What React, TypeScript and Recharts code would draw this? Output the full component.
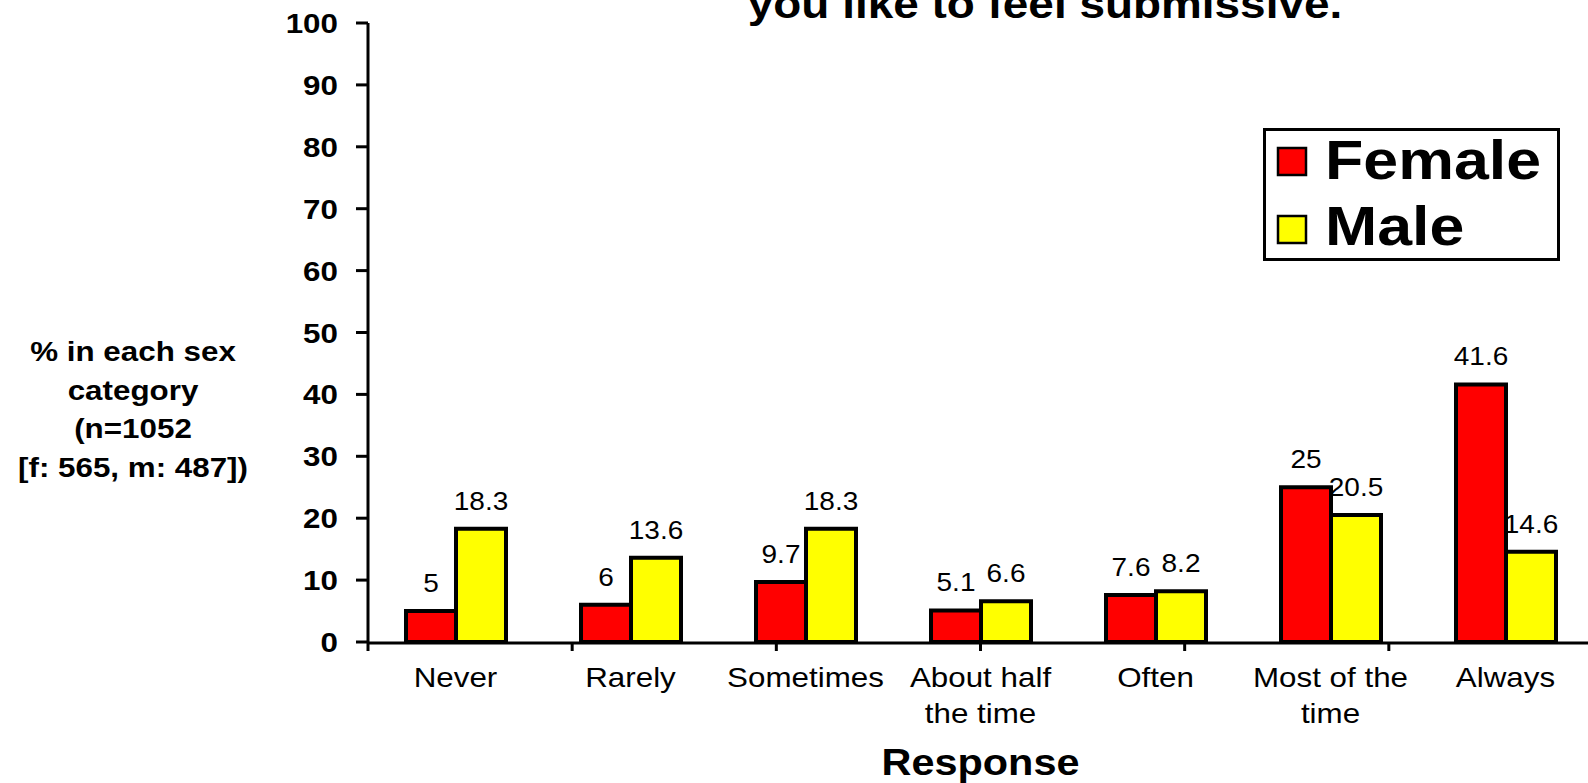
import { BarChart, Bar, XAxis, YAxis, Legend, LabelList, Label } from 'recharts';

// categories and values
const categories = ['Never', 'Rarely', 'Sometimes', 'About half\nthe time', 'Often', 'Most of the\ntime', 'Always'];
const femaleValues = [5, 6, 9.7, 5.1, 7.6, 25, 41.6];
const maleValues = [18.3, 13.6, 18.3, 6.6, 8.2, 20.5, 14.6];
const yTicks = [0, 10, 20, 30, 40, 50, 60, 70, 80, 90, 100];
const edgeTicks = [0, 1, 2, 3, 4, 5, 6, 7];
const yLabelLines = ['% in each sex', 'category', '(n=1052', '[f: 565, m: 487])'];

const COLORS: Record<string, string> = {
  female: '#ff0000',
  male: '#ffff00',
};
const FONT = '"Liberation Sans", Arial, Helvetica, sans-serif';
const STRETCH = 1.12; // the original text is a bit wide

const chartData = categories.map((name, i) => ({
  name,
  female: femaleValues[i],
  male: maleValues[i],
}));

const NoTick = () => <g />;

const YTick = ({ x, y, payload }: any) => (
  <g transform={`translate(${x},${y}) scale(${STRETCH},1)`}>
    <text textAnchor="end" dy={10} fontSize={28} fontWeight="bold" fontFamily={FONT} fill="#000">
      {payload.value}
    </text>
  </g>
);

const CategoryTick = ({ x, payload }: any) => {
  const lines = String(payload.value).split('\n');
  return (
    <g transform={`translate(${x},642) scale(${STRETCH},1)`}>
      <text textAnchor="middle" fontSize={28} fontFamily={FONT} fill="#000">
        {lines.map((l, i) => (
          <tspan key={i} x={0} y={45 + i * 36}>{l}</tspan>
        ))}
      </text>
    </g>
  );
};

const ValueLabel = ({ x, y, width, value }: any) => (
  <g transform={`translate(${x + width / 2},${y - 19}) scale(${STRETCH},1)`}>
    <text textAnchor="middle" fontSize={25} fontFamily={FONT} fill="#000">{value}</text>
  </g>
);

const YAxisTitle = ({ viewBox }: any) => {
  const cx = viewBox.x + 133;
  return (
    <g transform={`translate(${cx},0) scale(${STRETCH},1)`}>
      <text textAnchor="middle" fontSize={28} fontWeight="bold" fontFamily={FONT} fill="#000">
        {yLabelLines.map((l, i) => (
          <tspan key={i} x={0} y={361 + i * 38.7}>{l}</tspan>
        ))}
      </text>
    </g>
  );
};

const XAxisTitle = ({ viewBox }: any) => (
  <g transform={`translate(${viewBox.x + viewBox.width / 2},775) scale(${STRETCH},1)`}>
    <text textAnchor="middle" fontSize={37} fontWeight="bold" fontFamily={FONT} fill="#000">Response</text>
  </g>
);

const renderLegend = (props: any) => {
  const { payload = [] } = props;
  return (
    <svg width={297} height={133}>
      <rect x={1.5} y={1.5} width={294} height={130} fill="#fff" stroke="#000" strokeWidth={3} />
      {payload.map((entry: any, i: number) => (
        <g key={entry.value}>
          <rect x={15} y={20 + i * 68} width={28} height={27} fill={COLORS[entry.dataKey]} stroke="#000" strokeWidth={2.5} />
          <g transform={`translate(62,${51 + i * 66}) scale(${STRETCH},1)`}>
            <text fontSize={56} fontWeight="bold" fontFamily={FONT} fill="#000">{entry.value}</text>
          </g>
        </g>
      ))}
    </svg>
  );
};

export default function App() {
  return (
    <div style={{ position: 'absolute', left: 0, top: 0, width: 1588, height: 783, overflow: 'hidden', background: '#fff' }}>
      <BarChart
        width={1600}
        height={783}
        data={chartData}
        margin={{ top: 23, right: 7, bottom: 139, left: 0 }}
        barGap={0}
        barSize={50}
      >
        <XAxis
          xAxisId="edges"
          type="number"
          domain={[0, 7]}
          ticks={edgeTicks}
          interval={0}
          tick={<NoTick />}
          tickSize={8}
          height={1}
          axisLine={{ stroke: '#000', strokeWidth: 3 }}
          tickLine={{ stroke: '#000', strokeWidth: 3 }}
        />
        <XAxis
          dataKey="name"
          height={1}
          axisLine={false}
          tickLine={false}
          tickSize={0}
          tickMargin={0}
          interval={0}
          tick={<CategoryTick />}
        >
          <Label content={<XAxisTitle />} />
        </XAxis>
        <YAxis
          width={368}
          domain={[0, 100]}
          ticks={yTicks}
          interval={0}
          tickSize={12}
          tickMargin={18}
          axisLine={{ stroke: '#000', strokeWidth: 3 }}
          tickLine={{ stroke: '#000', strokeWidth: 3 }}
          tick={<YTick />}
        >
          <Label content={<YAxisTitle />} />
        </YAxis>
        <Legend
          layout="vertical"
          align="center"
          verticalAlign="middle"
          content={renderLegend}
          wrapperStyle={{ left: 1263, top: 128, width: 297, height: 133 }}
        />
        <Bar dataKey="female" name="Female" fill={COLORS.female} stroke="#000" strokeWidth={4} isAnimationActive={false}>
          <LabelList dataKey="female" content={<ValueLabel />} />
        </Bar>
        <Bar dataKey="male" name="Male" fill={COLORS.male} stroke="#000" strokeWidth={4} isAnimationActive={false}>
          <LabelList dataKey="male" content={<ValueLabel />} />
        </Bar>
      </BarChart>
      <svg width={1588} height={40} style={{ position: 'absolute', left: 0, top: 0 }}>
        <g transform={`translate(1045,18) scale(${STRETCH},1)`}>
          <text textAnchor="middle" fontSize={41} fontWeight="bold" fontFamily={FONT} fill="#000">
            you like to feel submissive.
          </text>
        </g>
      </svg>
    </div>
  );
}
